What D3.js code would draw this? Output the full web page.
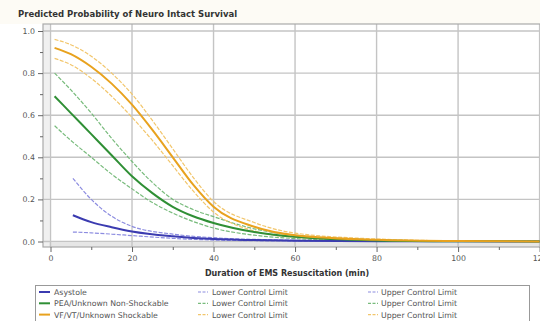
<!DOCTYPE html>
<html>
<head>
<meta charset="utf-8">
<script src="https://cdn.jsdelivr.net/npm/d3@7"></script>
<style>
  body { margin: 0; background: #fff; }
  svg { display: block; font-family: "DejaVu Sans", Verdana, sans-serif; }
</style>
</head>
<body>
<div id="chart"></div>
<script>
// durations (min) at which the curves were read
const asysTimes = [5.5, 10, 15, 20, 30, 40, 60, 80, 100, 120];
const asysMain  = [0.125, 0.092, 0.068, 0.048, 0.025, 0.012, 0.004, 0.0015, 0.0006, 0.0002];
const asysLower = [0.045, 0.041, 0.035, 0.028, 0.015, 0.007, 0.002, 0.0007, 0.0002, 0.0001];
const asysUpper = [0.30, 0.20, 0.12, 0.072, 0.035, 0.018, 0.006, 0.002, 0.0008, 0.0003];

const times = [1, 5, 10, 15, 20, 25, 30, 35, 40, 50, 60, 80, 100, 120];
const peaMain   = [0.69, 0.61, 0.51, 0.41, 0.31, 0.23, 0.165, 0.12, 0.088, 0.045, 0.022, 0.005, 0.0012, 0.0003];
const peaLower  = [0.55, 0.48, 0.40, 0.32, 0.25, 0.185, 0.135, 0.095, 0.064, 0.03, 0.014, 0.003, 0.0007, 0.0002];
const peaUpper  = [0.80, 0.72, 0.61, 0.49, 0.38, 0.28, 0.20, 0.152, 0.118, 0.06, 0.03, 0.008, 0.002, 0.0005];
const vfMain    = [0.92, 0.89, 0.83, 0.75, 0.65, 0.53, 0.40, 0.27, 0.165, 0.07, 0.03, 0.008, 0.002, 0.0005];
const vfLower   = [0.87, 0.84, 0.775, 0.69, 0.59, 0.48, 0.36, 0.24, 0.14, 0.05, 0.02, 0.005, 0.0012, 0.0003];
const vfUpper   = [0.96, 0.935, 0.88, 0.80, 0.70, 0.575, 0.44, 0.305, 0.19, 0.09, 0.04, 0.012, 0.003, 0.0008];

const xTicks = [0, 20, 40, 60, 80, 100, 120];
const yTicks = [0, 0.2, 0.4, 0.6, 0.8, 1.0];

const legendRows = [
  { name: 'Asystole', color: '#3b3bb0', light: '#8c8ce0' },
  { name: 'PEA/Unknown Non-Shockable', color: '#2f8f35', light: '#78bb7c' },
  { name: 'VF/VT/Unknown Shockable', color: '#e8a21e', light: '#f2c66c' },
];

const W = 540, H = 321;
const svg = d3.select('#chart').append('svg').attr('width', W).attr('height', H);

const x = d3.scaleLinear().domain([0, 120]).range([50.5, 539.6]);
const y = d3.scaleLinear().domain([0, 1]).range([241.5, 31]);
const frame = { left: 43, top: 24, right: 546, bottom: 247 };

// title band
svg.append('rect').attr('x', 0).attr('y', 0).attr('width', W).attr('height', frame.top)
  .attr('fill', '#fdfbf5');
svg.append('text').attr('x', 18).attr('y', 17)
  .attr('font-size', 8.5).attr('font-weight', 'bold').attr('fill', '#333')
  .text('Predicted Probability of Neuro Intact Survival');

// bands outside the data range
svg.append('rect')
  .attr('x', frame.left).attr('y', y(0) + 1)
  .attr('width', frame.right - frame.left).attr('height', frame.bottom - y(0) - 1)
  .attr('fill', '#e6e6e6');
svg.append('rect')
  .attr('x', frame.left).attr('y', frame.top)
  .attr('width', x(0) - frame.left - 1).attr('height', frame.bottom - frame.top)
  .attr('fill', '#f0f0f0');

// grid
svg.append('g').selectAll('line').data(xTicks).enter().append('line')
  .attr('x1', (d) => x(d)).attr('x2', (d) => x(d))
  .attr('y1', frame.top).attr('y2', frame.bottom)
  .attr('stroke', '#c4c4c4').attr('stroke-width', 1.4);
svg.append('g').selectAll('line').data(yTicks).enter().append('line')
  .attr('x1', frame.left).attr('x2', frame.right)
  .attr('y1', (d) => y(d)).attr('y2', (d) => y(d))
  .attr('stroke', '#c4c4c4').attr('stroke-width', 1.4);

// frame
svg.append('rect')
  .attr('x', frame.left).attr('y', frame.top)
  .attr('width', frame.right - frame.left).attr('height', frame.bottom - frame.top)
  .attr('fill', 'none').attr('stroke', '#aaa').attr('stroke-width', 1.2);

// axes
svg.append('g').attr('transform', `translate(0,${frame.bottom})`)
  .call(d3.axisBottom(x).tickValues(xTicks).tickFormat(d3.format('d')).tickSize(5).tickPadding(3));
svg.append('g').attr('transform', `translate(0,${frame.bottom})`)
  .call(d3.axisBottom(x).tickValues(d3.range(10, 120, 20)).tickFormat('').tickSize(3));
svg.append('g').attr('transform', `translate(${frame.left},0)`)
  .call(d3.axisLeft(y).tickValues(yTicks).tickFormat(d3.format('.1f')).tickSize(5).tickPadding(3));
svg.append('g').attr('transform', `translate(${frame.left},0)`)
  .call(d3.axisLeft(y).tickValues([0.1, 0.3, 0.5, 0.7, 0.9]).tickFormat('').tickSize(3));
svg.selectAll('.domain').remove();
svg.selectAll('.tick line').attr('stroke', '#666');
svg.selectAll('.tick text').attr('font-size', 7.8).attr('fill', '#555')
  .attr('font-family', '"DejaVu Sans", Verdana, sans-serif');

svg.append('text').attr('x', 287).attr('y', 276).attr('text-anchor', 'middle')
  .attr('font-size', 8).attr('font-weight', 'bold').attr('fill', '#333')
  .text('Duration of EMS Resuscitation (min)');

// curves
const line = d3.line().curve(d3.curveMonotoneX);
function drawCurve(ts, vals, color, width, dash) {
  svg.append('path')
    .datum(ts.map((t, i) => [x(t), y(vals[i])]))
    .attr('fill', 'none')
    .attr('stroke', color)
    .attr('stroke-width', width)
    .attr('stroke-dasharray', dash)
    .attr('d', line);
}
drawCurve(asysTimes, asysLower, legendRows[0].light, 1.2, '4,1.5');
drawCurve(asysTimes, asysUpper, legendRows[0].light, 1.2, '4,1.5');
drawCurve(times, peaLower, legendRows[1].light, 1.2, '4,1.5');
drawCurve(times, peaUpper, legendRows[1].light, 1.2, '4,1.5');
drawCurve(times, vfLower, legendRows[2].light, 1.2, '4,1.5');
drawCurve(times, vfUpper, legendRows[2].light, 1.2, '4,1.5');
drawCurve(asysTimes, asysMain, legendRows[0].color, 2, null);
drawCurve(times, peaMain, legendRows[1].color, 2, null);
drawCurve(times, vfMain, legendRows[2].color, 2, null);

// legend
svg.append('rect').attr('x', 35.5).attr('y', 285.5).attr('width', 494).attr('height', 40)
  .attr('fill', '#fff').attr('stroke', '#999');
const cols = [
  { sx: 39, tx: 54, label: (r) => r.name, solid: true },
  { sx: 198, tx: 212, label: () => 'Lower Control Limit', solid: false },
  { sx: 368, tx: 381, label: () => 'Upper Control Limit', solid: false },
];
legendRows.forEach((r, i) => {
  const ly = 292 + i * 11.3;
  cols.forEach((c) => {
    svg.append('line')
      .attr('x1', c.sx).attr('x2', c.sx + (c.solid ? 11 : 10))
      .attr('y1', ly).attr('y2', ly)
      .attr('stroke', c.solid ? r.color : r.light)
      .attr('stroke-width', c.solid ? 2 : 1.2)
      .attr('stroke-dasharray', c.solid ? null : '3,1.5');
    svg.append('text').attr('x', c.tx).attr('y', ly + 3)
      .attr('font-size', 7.8).attr('fill', '#555').text(c.label(r));
  });
});
</script>
</body>
</html>
